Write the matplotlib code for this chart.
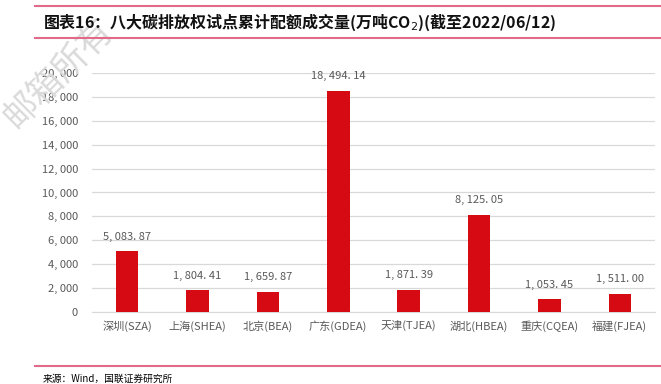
import matplotlib
matplotlib.use("Agg")
import matplotlib.pyplot as plt
import numpy as np
from matplotlib.lines import Line2D

plt.rcParams["font.family"] = ["Noto Sans CJK SC", "DejaVu Sans"]

categories = ["深圳(SZA)", "上海(SHEA)", "北京(BEA)", "广东(GDEA)",
              "天津(TJEA)", "湖北(HBEA)", "重庆(CQEA)", "福建(FJEA)"]
volumes = [5083.87, 1804.41, 1659.87, 18494.14, 1871.39, 8125.05, 1053.45, 1511.00]
yticks = np.arange(0, 20001, 2000)

red = "#d50a12"
pink = "#e06a87"
grey = "#595959"

fig = plt.figure(figsize=(6.61, 3.84), dpi=100)

# watermark (behind everything)
fig.text(58 / 661, 1 - 74 / 384, "邮箱所有", fontsize=25, rotation=45,
         color="#dadada", fontweight="light", ha="center", va="center", zorder=0)

ax = fig.add_axes([0.139, 0.1875, 0.852, 0.6225])
ax.patch.set_alpha(0)

x = np.arange(len(categories))
ax.bar(x, volumes, width=0.32, color=red, zorder=3)
for xi, v in zip(x, volumes):
    ax.annotate(f"{v:,.2f}".replace(",", ", ").replace(".", ". "), (xi, v),
                xytext=(0, 7), textcoords="offset points",
                ha="center", va="bottom", fontsize=8, color=grey)

ax.set_ylim(0, 20000)
ax.set_xlim(-0.5, len(categories) - 0.5)
ax.set_yticks(yticks)
ax.set_yticklabels([f"{t:,}".replace(",", ", ") for t in yticks])
ax.set_xticks(x)
ax.set_xticklabels(categories)
ax.tick_params(axis="both", length=0, labelsize=8, colors=grey)
ax.tick_params(axis="y", pad=10)
ax.tick_params(axis="x", pad=6)
ax.grid(axis="y", color="#d9d9d9", lw=0.9, zorder=0)
for s in ["top", "right", "left"]:
    ax.spines[s].set_visible(False)
ax.spines["bottom"].set_color("#d9d9d9")

# header / footer rules
for yy in [1 - 6 / 384, 1 - 38 / 384, 1 - 366 / 384]:
    fig.add_artist(Line2D([35 / 661, 1], [yy, yy], color=pink, lw=1.5,
                          transform=fig.transFigure))

fig.text(43 / 661, 1 - 22 / 384, "图表16：八大碳排放权试点累计配额成交量(万吨CO$_2$)(截至2022/06/12)",
         fontsize=11.5, fontweight="bold", va="center", ha="left", color="#111111")
fig.text(43 / 661, 1 - 379 / 384, "来源：Wind，国联证券研究所",
         fontsize=7, va="center", ha="left", color="black")

fig.savefig("out.png", dpi=100)
